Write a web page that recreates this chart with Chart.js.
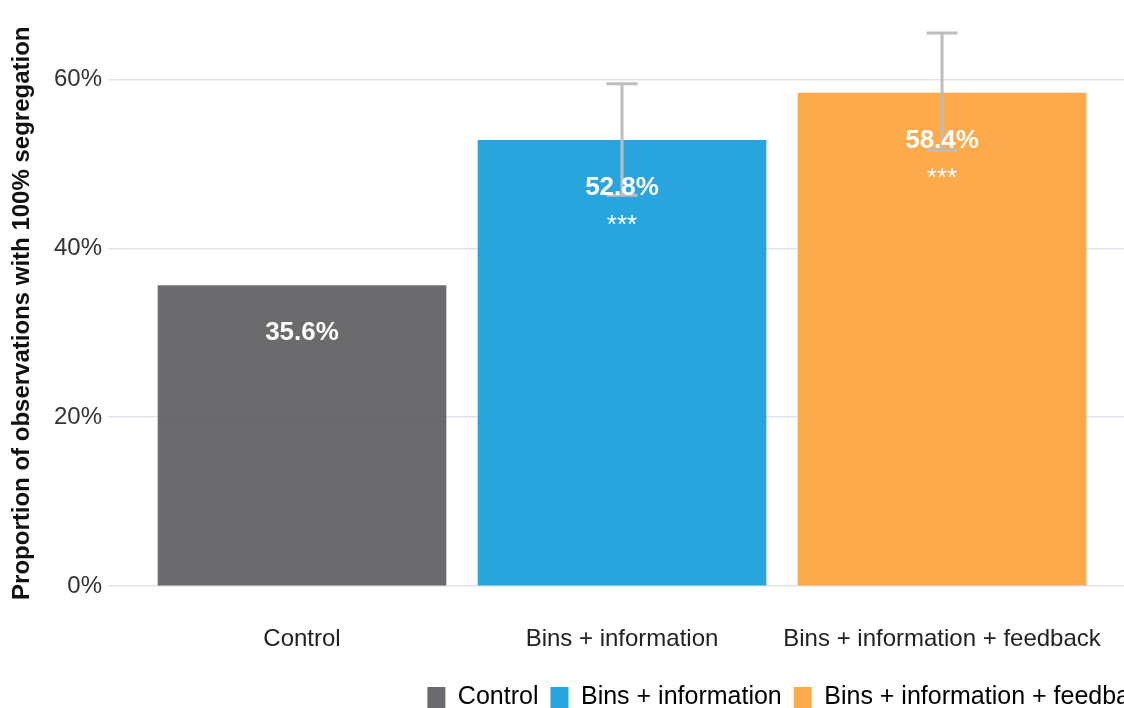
<!DOCTYPE html>
<html>
<head>
<meta charset="utf-8">
<script src="https://cdn.jsdelivr.net/npm/chart.js@4.4.1/dist/chart.umd.min.js"></script>
<style>
  html, body { margin: 0; padding: 0; background: #fff; overflow: hidden; }
  canvas { display: block; }
</style>
</head>
<body>
<canvas id="chart" width="1167" height="720"></canvas>
<script>
// groups and shares of observations with full segregation (%)
const categories = ['Control', 'Bins + information', 'Bins + information + feedback'];
const shares = [35.6, 52.8, 58.4];
const errLow = [null, 46.3, 51.6];
const errHigh = [null, 59.5, 65.5];
const stars = ['', '***', '***'];
const yTicks = [0, 20, 40, 60];

const barColors = ['rgba(94, 94, 98, 0.92)', 'rgba(22, 157, 218, 0.92)', 'rgba(252, 163, 61, 0.92)'];
const legendColors = ['#6b6b6e', '#27a4dd', '#fcaa4c'];
const FONT = '"Liberation Sans", Arial, sans-serif';

// error whiskers + value / significance labels on top of the bars
const barNotes = {
  id: 'barNotes',
  afterDatasetsDraw(chart) {
    const { ctx } = chart;
    const y = chart.scales.y;
    const bars = chart.getDatasetMeta(0).data;
    ctx.save();
    ctx.strokeStyle = '#bdbdbd';
    ctx.lineWidth = 3;
    bars.forEach((bar, i) => {
      if (errLow[i] == null) return;
      const top = y.getPixelForValue(errHigh[i]);
      const bot = y.getPixelForValue(errLow[i]);
      ctx.beginPath();
      ctx.moveTo(bar.x, top); ctx.lineTo(bar.x, bot);
      ctx.moveTo(bar.x - 15.5, top); ctx.lineTo(bar.x + 15.5, top);
      ctx.moveTo(bar.x - 15.5, bot); ctx.lineTo(bar.x + 15.5, bot);
      ctx.stroke();
    });
    ctx.fillStyle = '#fff';
    ctx.textAlign = 'center';
    ctx.textBaseline = 'alphabetic';
    bars.forEach((bar, i) => {
      ctx.font = 'bold 26px ' + FONT;
      ctx.fillText(shares[i].toFixed(1) + '%', bar.x, bar.y + 55);
      if (stars[i]) {
        ctx.font = '26px ' + FONT;
        ctx.fillText(stars[i], bar.x, bar.y + 93);
      }
    });
    ctx.restore();
  }
};

new Chart(document.getElementById('chart'), {
  type: 'bar',
  data: {
    datasets: [{
      data: shares.map((v, i) => ({ x: i, y: v })),
      backgroundColor: barColors,
      borderWidth: 0,
      barThickness: 288
    }]
  },
  options: {
    responsive: false,
    animation: false,
    layout: { padding: { top: 13, left: 0, right: 0, bottom: 0 } },
    plugins: {
      tooltip: { enabled: false },
      legend: {
        position: 'bottom',
        align: 'end',
        labels: {
          boxWidth: 18,
          boxHeight: 21,
          padding: 12,
          color: '#222',
          font: { family: FONT, size: 25 },
          generateLabels: () => categories.map((c, i) => ({
            text: c,
            fillStyle: legendColors[i],
            strokeStyle: legendColors[i],
            lineWidth: 0,
            hidden: false,
            index: i
          }))
        }
      }
    },
    scales: {
      x: {
        type: 'linear',
        offset: false,
        min: -0.60625,
        max: 2.703,
        afterBuildTicks: (s) => { s.ticks = categories.map((_, i) => ({ value: i })); },
        afterFit: (s) => { s.height = 87; },
        grid: { display: false, offset: false },
        border: { display: false },
        ticks: {
          padding: 31,
          color: '#222',
          maxRotation: 0,
          autoSkip: false,
          font: { family: FONT, size: 24 },
          callback: (v) => categories[v]
        }
      },
      y: {
        min: 0,
        max: 67,
        afterBuildTicks: (s) => { s.ticks = yTicks.map((v) => ({ value: v })); },
        afterFit: (s) => { s.width = 108; },
        grid: { color: '#dfe3eb', lineWidth: 1.5, drawTicks: false },
        border: { display: false },
        ticks: {
          padding: 6,
          color: '#333',
          font: { family: FONT, size: 24 },
          callback: (v) => v + '%'
        },
        title: {
          display: true,
          // trailing spaces nudge the rotated title a little lower
          text: 'Proportion of observations with 100% segregation   ',
          color: '#111',
          padding: { top: 8, bottom: 0 },
          font: { family: FONT, size: 24, weight: 'bold' }
        }
      }
    }
  },
  plugins: [barNotes]
});
</script>
</body>
</html>
